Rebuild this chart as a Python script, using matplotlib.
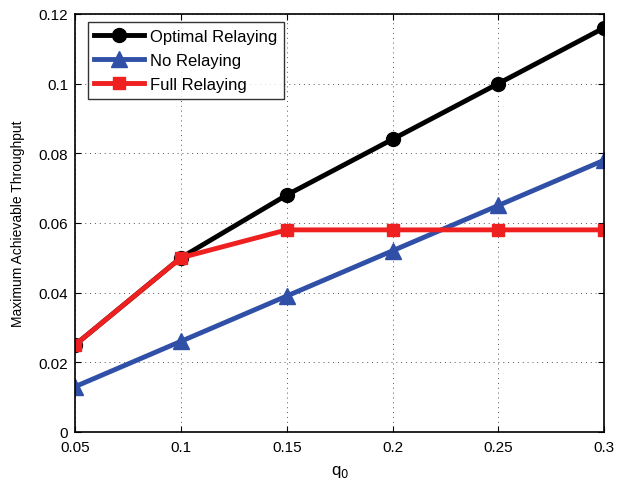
import matplotlib
matplotlib.use("Agg")
import matplotlib.pyplot as plt

plt.rcParams['font.family'] = ['Liberation Sans', 'DejaVu Sans']

q0 = [0.05, 0.1, 0.15, 0.2, 0.25, 0.3]
optimal = [0.025, 0.050, 0.068, 0.084, 0.100, 0.116]
no_relay = [0.013, 0.026, 0.039, 0.052, 0.065, 0.078]
full_relay = [0.025, 0.050, 0.058, 0.058, 0.058, 0.058]

fig = plt.figure(figsize=(6.26, 4.81), dpi=100)
ax = fig.add_axes([0.120, 0.100, 0.845, 0.869])

ax.plot(q0, optimal, '-o', color='black', lw=3.5, ms=10, label='Optimal Relaying')
ax.plot(q0, no_relay, '-^', color='#3050a8', lw=3.5, ms=11, label='No Relaying')
ax.plot(q0, full_relay, '-s', color='#ee2020', lw=3.5, ms=9, label='Full Relaying')

ax.set_xlim(0.05, 0.3)
ax.set_ylim(0, 0.12)
ax.set_xticks(q0)
ax.set_xticklabels(['0.05', '0.1', '0.15', '0.2', '0.25', '0.3'])
ax.set_yticks([0, 0.02, 0.04, 0.06, 0.08, 0.1, 0.12])
ax.set_yticklabels(['0', '0.02', '0.04', '0.06', '0.08', '0.1', '0.12'])
ax.grid(True, linestyle=(0, (1, 4)), color='#555555', lw=0.7)
ax.tick_params(direction='in', labelsize=11, top=True, right=True, length=4)
ax.tick_params(axis='x', pad=6)
ax.tick_params(axis='y', pad=5)
for s in ax.spines.values():
    s.set_linewidth(1.2)

ax.set_xlabel('q$_0$', fontsize=12, labelpad=6)
ax.set_ylabel('Maximum Achievable Throughput', fontsize=10, labelpad=10)

leg = ax.legend(loc='upper left', bbox_to_anchor=(0.024, 0.98), borderaxespad=0,
                fontsize=12, fancybox=False, edgecolor='black',
                handlelength=3.0, labelspacing=0.55, handletextpad=0.35)
leg.get_frame().set_linewidth(1)

fig.savefig('out.png', dpi=100)
